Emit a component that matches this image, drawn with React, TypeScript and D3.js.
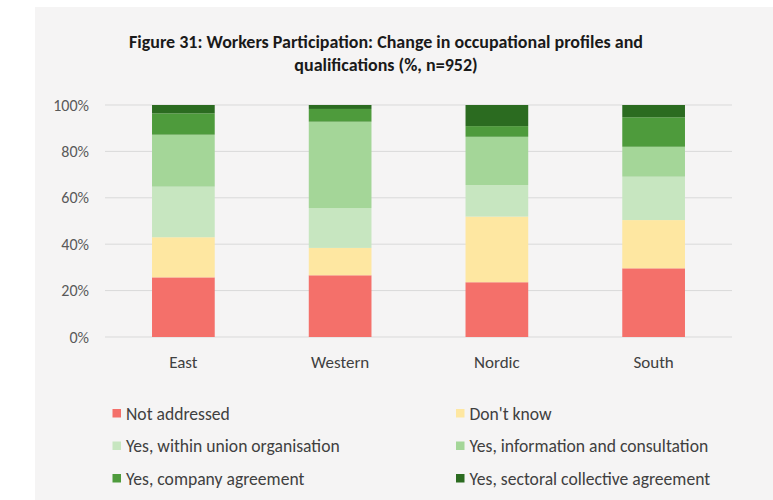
import React from "react";
import * as d3 from "d3";

const regions = ["East", "Western", "Nordic", "South"];
const seriesNames = [
  "Not addressed",
  "Don't know",
  "Yes, within union organisation",
  "Yes, information and consultation",
  "Yes, company agreement",
  "Yes, sectoral collective agreement",
];
const notAddressed = [25.7, 26.6, 23.6, 29.6];
const dontKnow = [17.3, 11.8, 28.3, 20.8];
const unionOrg = [21.8, 17.2, 13.6, 18.7];
const infoConsult = [22.4, 37.2, 20.8, 12.9];
const companyAgr = [9.2, 5.5, 4.6, 12.7];
const sectoralAgr = [3.6, 1.7, 9.1, 5.3];
const yTicks = [0, 20, 40, 60, 80, 100];
const colors = ["#f4706a", "#fee7a1", "#c7e6c0", "#a4d698", "#4e9b3c", "#2b6b20"];
const titleLines = [
  "Figure 31: Workers Participation: Change in occupational profiles and",
  "qualifications (%, n=952)",
];

const FONT = "Carlito, Calibri, Lato, 'Open Sans', sans-serif";

export default function App() {
  const W = 773;
  const H = 500;
  const seriesValues = [notAddressed, dontKnow, unionOrg, infoConsult, companyAgr, sectoralAgr];
  const table = regions.map((r, i) => {
    const row: Record<string, any> = { region: r };
    seriesNames.forEach((s, j) => (row[s] = seriesValues[j][i]));
    return row;
  });
  const stacked = d3.stack<any>().keys(seriesNames)(table);

  const x = d3.scaleBand<string>().domain(regions).range([105, 732]).paddingInner(0.6).paddingOuter(0.3);
  const y = d3.scaleLinear().domain([0, 100]).range([337, 105]);

  const legendCols = [112.5, 456];
  const legendRows = [413.5, 446, 478.5];

  return (
    <svg width={W} height={H} style={{ position: "absolute", left: 0, top: 0 }} fontFamily={FONT}>
      <rect x={0} y={0} width={W} height={H} fill="#ffffff" />
      <rect x={35} y={7} width={W - 35} height={H - 7} fill="#f5f4f4" />
      {titleLines.map((t, i) => (
        <text key={i} x={386} y={48 + i * 23} textAnchor="middle" fontSize={18} fontWeight="bold" fill="#1a1a1a">
          {t}
        </text>
      ))}
      {yTicks.map((t) => (
        <g key={t}>
          <line x1={105} x2={732} y1={y(t)} y2={y(t)} stroke="#d9d9d9" strokeWidth={1} />
          <text x={89} y={y(t)} dy="0.35em" textAnchor="end" fontSize={16} fill="#595959">
            {t + "%"}
          </text>
        </g>
      ))}
      {stacked.map((layer, j) => (
        <g key={layer.key} fill={colors[j]}>
          {layer.map((d, i) => (
            <rect
              key={i}
              x={x(regions[i])}
              width={x.bandwidth()}
              y={y(d[1])}
              height={y(d[0]) - y(d[1])}
            />
          ))}
        </g>
      ))}
      {regions.map((r) => (
        <text key={r} x={(x(r) as number) + x.bandwidth() / 2} y={362} dy="0.35em" textAnchor="middle" fontSize={17} fill="#404040">
          {r}
        </text>
      ))}
      {seriesNames.map((s, j) => {
        const cx = legendCols[j % 2];
        const cy = legendRows[Math.floor(j / 2)];
        return (
          <g key={s}>
            <rect x={cx} y={cy - 4.5} width={8.5} height={8.5} fill={colors[j]} />
            <text x={cx + 13.5} y={cy} dy="0.35em" fontSize={17.6} fill="#404040">
              {s}
            </text>
          </g>
        );
      })}
    </svg>
  );
}
